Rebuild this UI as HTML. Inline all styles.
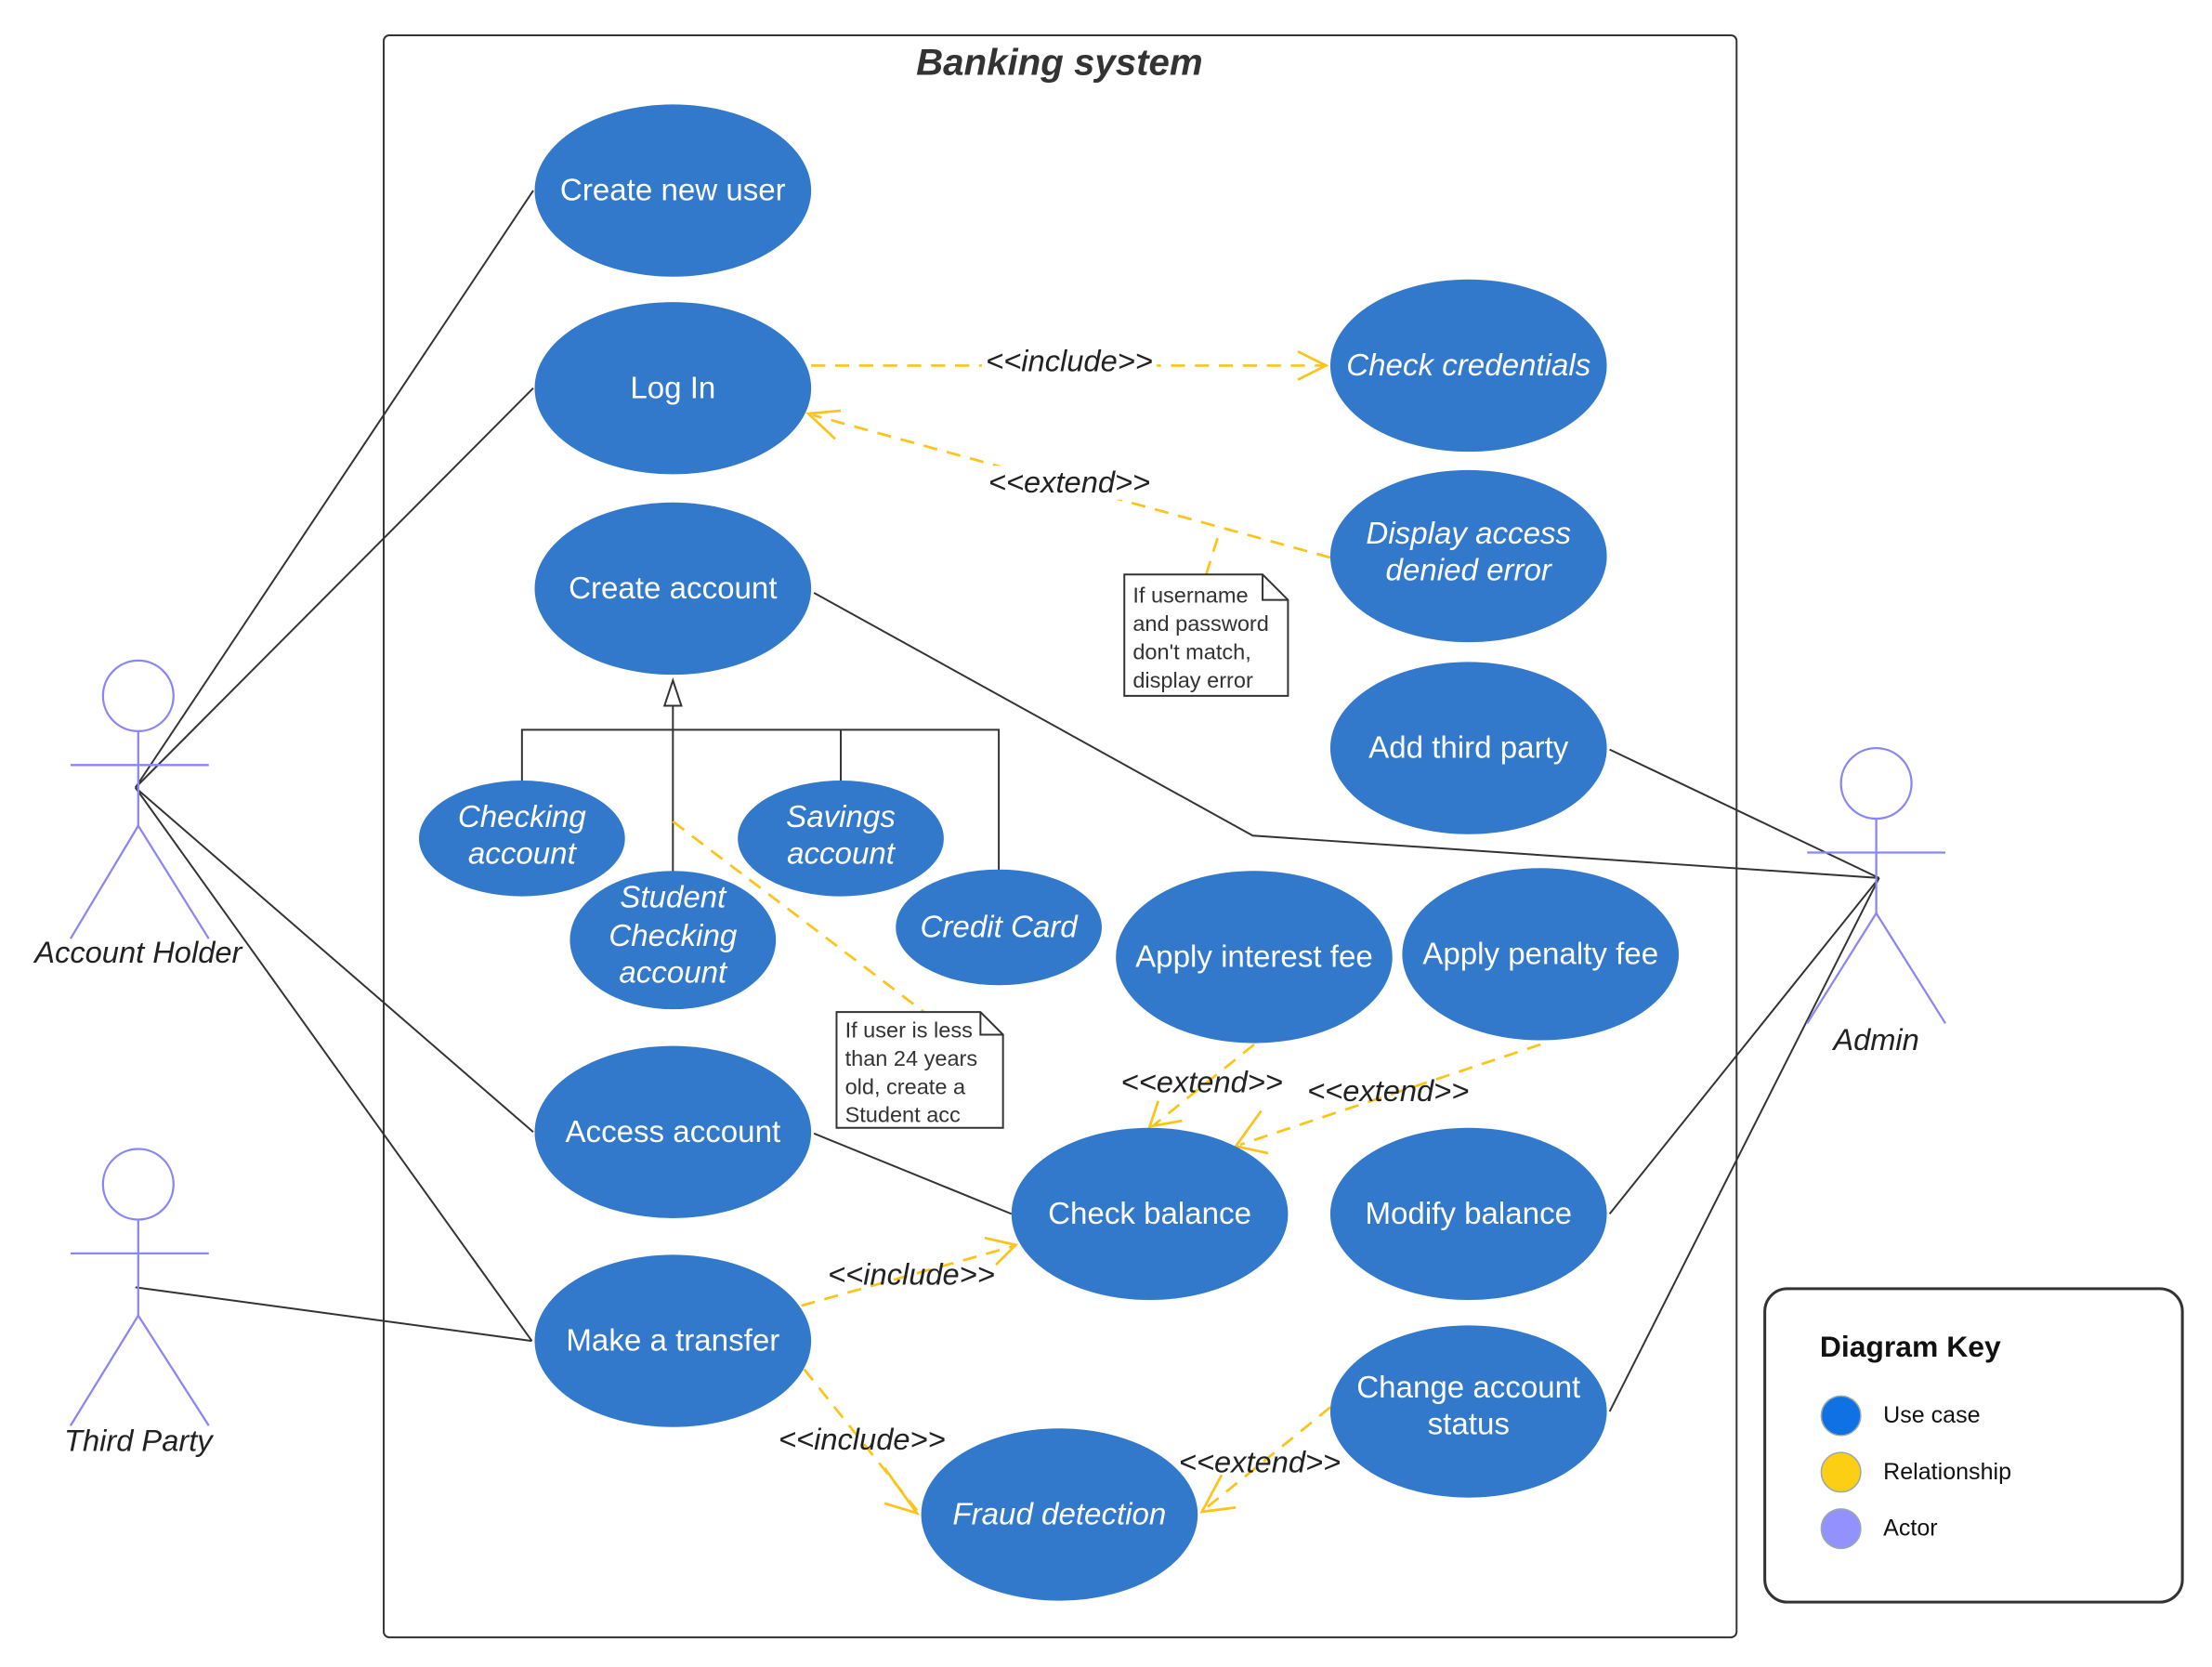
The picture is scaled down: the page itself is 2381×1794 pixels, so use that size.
<!DOCTYPE html>
<html><head><meta charset="utf-8"><style>
html,body{margin:0;padding:0;background:#fff;}
svg{display:block;}
text{font-family:"Liberation Sans",Arial,sans-serif;}
.uc{fill:#3278cb;}
.ut{fill:#fff;font-size:21.8px;text-anchor:middle;}
.it{font-style:italic;}
.ln{stroke:#333;stroke-width:1.3;fill:none;}
.dl{stroke:#fcc419;stroke-width:1.8;fill:none;stroke-dasharray:10,7;}
.ah{stroke:#fcc419;stroke-width:1.8;fill:none;}
.lb{fill:#222;font-size:21.5px;font-style:italic;text-anchor:middle;}
.act{stroke:#8b86f5;stroke-width:1.5;fill:none;}
.nt{fill:#333;font-size:15.5px;}
</style></head><body>
<svg width="2381" height="1794" viewBox="0 0 1568 1181" preserveAspectRatio="none" xmlns="http://www.w3.org/2000/svg">
<rect x="272" y="25" width="959" height="1135" rx="4" fill="#fff" stroke="#333" stroke-width="1.3"/>
<text x="751" y="53" text-anchor="middle" font-size="26.5" font-weight="bold" font-style="italic" fill="#333">Banking system</text>

<g class="ln">
<line x1="96" y1="558" x2="378" y2="135"/>
<line x1="96" y1="558" x2="378" y2="275"/>
<line x1="96" y1="558" x2="378" y2="802"/>
<line x1="96" y1="558" x2="377" y2="950"/>
<line x1="96" y1="912" x2="377" y2="950"/>
<polyline points="577,420 888,592 1332,622"/>
<line x1="1332" y1="622" x2="1141" y2="531"/>
<line x1="1332" y1="622" x2="1141" y2="860"/>
<line x1="1332" y1="622" x2="1141" y2="1000"/>
<line x1="577" y1="803" x2="717" y2="860"/>
<line x1="477" y1="500" x2="477" y2="618"/>
<polyline points="370,553 370,517 708,517 708,618"/>
<line x1="596" y1="517" x2="596" y2="553"/>
</g>
<polygon points="477,482 471,500 483,500" fill="#fff" stroke="#333" stroke-width="1.3"/>

<g class="dl">
<line x1="575" y1="259" x2="938" y2="259"/>
<line x1="943" y1="395" x2="576" y2="294"/>
<polyline points="855,407 865,375"/>
<line x1="477" y1="582" x2="655" y2="717"/>
<line x1="889" y1="740" x2="818" y2="797"/>
<line x1="1092" y1="740" x2="879" y2="811"/>
<line x1="568" y1="925" x2="718" y2="883"/>
<line x1="570" y1="970" x2="650" y2="1070"/>
<line x1="943" y1="997" x2="853" y2="1070"/>
</g>
<g class="ah">
<polyline points="920,249 940,259 920,269"/>
<polyline points="592,311 573,293 596,291"/>
<polyline points="821,780 815,798 838,794"/>
<polyline points="894,787 876,812 899,817"/>
<polyline points="698,877 720,882 706,896"/>
<polyline points="627,1040 650,1072 627,1065"/>
<polyline points="866,1045 852,1071 876,1068"/>
</g>

<path d="M797,407 H895 L913,425 V493 H797 Z" fill="#fff" stroke="#333" stroke-width="1.3"/>
<path d="M895,407 V425 H913" fill="none" stroke="#333" stroke-width="1.3"/>
<text class="nt" x="803" y="427">If username</text>
<text class="nt" x="803" y="447">and password</text>
<text class="nt" x="803" y="467">don't match,</text>
<text class="nt" x="803" y="487">display error</text>
<path d="M593,717 H695 L711,733 V799 H593 Z" fill="#fff" stroke="#333" stroke-width="1.3"/>
<path d="M695,717 V733 H711" fill="none" stroke="#333" stroke-width="1.3"/>
<text class="nt" x="599" y="735">If user is less</text>
<text class="nt" x="599" y="755">than 24 years</text>
<text class="nt" x="599" y="775">old, create a</text>
<text class="nt" x="599" y="795">Student acc</text>

<rect x="696" y="244" width="124" height="24" fill="#fff"/>
<text class="lb" x="758" y="263">&lt;&lt;include&gt;&gt;</text>
<rect x="698" y="330" width="120" height="24" fill="#fff"/>
<text class="lb" x="758" y="349">&lt;&lt;extend&gt;&gt;</text>
<text class="lb" x="852" y="774">&lt;&lt;extend&gt;&gt;</text>
<text class="lb" x="984" y="780">&lt;&lt;extend&gt;&gt;</text>
<text class="lb" x="646" y="910">&lt;&lt;include&gt;&gt;</text>
<text class="lb" x="611" y="1027">&lt;&lt;include&gt;&gt;</text>
<text class="lb" x="893" y="1043">&lt;&lt;extend&gt;&gt;</text>

<ellipse class="uc" cx="477" cy="135" rx="98" ry="61"/><text class="ut" x="477" y="142">Create new user</text>
<ellipse class="uc" cx="477" cy="275" rx="98" ry="61"/><text class="ut" x="477" y="282">Log In</text>
<ellipse class="uc" cx="477" cy="417" rx="98" ry="61"/><text class="ut" x="477" y="424">Create account</text>
<ellipse class="uc" cx="1041" cy="259" rx="98" ry="61"/><text class="ut it" x="1041" y="266">Check credentials</text>
<ellipse class="uc" cx="1041" cy="394" rx="98" ry="61"/><text class="ut it" x="1041" y="385">Display access</text><text class="ut it" x="1041" y="411">denied error</text>
<ellipse class="uc" cx="1041" cy="530" rx="98" ry="61"/><text class="ut" x="1041" y="537">Add third party</text>
<ellipse class="uc" cx="370" cy="594" rx="73" ry="41"/><text class="ut it" x="370" y="586">Checking</text><text class="ut it" x="370" y="612">account</text>
<ellipse class="uc" cx="596" cy="594" rx="73" ry="41"/><text class="ut it" x="596" y="586">Savings</text><text class="ut it" x="596" y="612">account</text>
<ellipse class="uc" cx="477" cy="666" rx="73" ry="49"/><text class="ut it" x="477" y="643">Student</text><text class="ut it" x="477" y="670">Checking</text><text class="ut it" x="477" y="696">account</text>
<ellipse class="uc" cx="708" cy="657" rx="73" ry="41"/><text class="ut it" x="708" y="664">Credit Card</text>
<ellipse class="uc" cx="889" cy="678" rx="98" ry="61"/><text class="ut" x="889" y="685">Apply interest fee</text>
<ellipse class="uc" cx="1092" cy="676" rx="98" ry="61"/><text class="ut" x="1092" y="683">Apply penalty fee</text>
<ellipse class="uc" cx="477" cy="802" rx="98" ry="61"/><text class="ut" x="477" y="809">Access account</text>
<ellipse class="uc" cx="815" cy="860" rx="98" ry="61"/><text class="ut" x="815" y="867">Check balance</text>
<ellipse class="uc" cx="1041" cy="860" rx="98" ry="61"/><text class="ut" x="1041" y="867">Modify balance</text>
<ellipse class="uc" cx="477" cy="950" rx="98" ry="61"/><text class="ut" x="477" y="957">Make a transfer</text>
<ellipse class="uc" cx="1041" cy="1000" rx="98" ry="61"/><text class="ut" x="1041" y="990">Change account</text><text class="ut" x="1041" y="1016">status</text>
<ellipse class="uc" cx="751" cy="1073" rx="98" ry="61"/><text class="ut it" x="751" y="1080">Fraud detection</text>

<g class="act">
<circle cx="98" cy="493" r="25"/><line x1="98" y1="518" x2="98" y2="585"/><line x1="50" y1="542" x2="148" y2="542"/><polyline points="50,665 98,585 148,665"/>
<circle cx="98" cy="839" r="25"/><line x1="98" y1="864" x2="98" y2="932"/><line x1="50" y1="888" x2="148" y2="888"/><polyline points="50,1010 98,932 148,1010"/>
<circle cx="1330" cy="555" r="25"/><line x1="1330" y1="580" x2="1330" y2="647"/><line x1="1281" y1="604" x2="1379" y2="604"/><polyline points="1281,725 1330,647 1379,725"/>
</g>
<text class="lb" x="98" y="682">Account Holder</text>
<text class="lb" x="98" y="1028">Third Party</text>
<text class="lb" x="1330" y="744">Admin</text>

<rect x="1251" y="913" width="296" height="222" rx="16" fill="#fff" stroke="#333" stroke-width="2"/>
<text x="1290" y="961" font-size="21" font-weight="bold" fill="#111">Diagram Key</text>
<circle cx="1305" cy="1003" r="14" fill="#1071e5" stroke="#9aa" stroke-width="1"/>
<circle cx="1305" cy="1043" r="14" fill="#fcce14" stroke="#9aa" stroke-width="1"/>
<circle cx="1305" cy="1083" r="14" fill="#9391fd" stroke="#9aa" stroke-width="1"/>
<text x="1335" y="1008" font-size="16.5" fill="#111">Use case</text>
<text x="1335" y="1048" font-size="16.5" fill="#111">Relationship</text>
<text x="1335" y="1088" font-size="16.5" fill="#111">Actor</text>
</svg>
</body></html>
